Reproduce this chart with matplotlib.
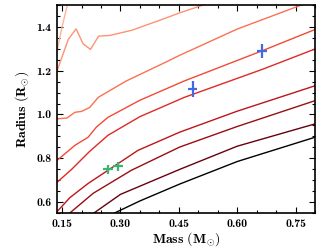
import numpy as np
import matplotlib
matplotlib.use('Agg')
import matplotlib.pyplot as plt
from matplotlib.ticker import MultipleLocator, FormatStrFormatter

plt.rcParams['font.family'] = 'serif'
plt.rcParams['font.serif'] = ['cmb10', 'DejaVu Serif']
plt.rcParams['mathtext.fontset'] = 'cm'
plt.rcParams['axes.unicode_minus'] = False

# model curves, mass (Msun) vs radius (Rsun), light to dark
m1 = [0.137, 0.150, 0.163, 0.170]
r1 = [1.290, 1.400, 1.495, 1.530]

m2 = [0.137, 0.166, 0.186, 0.204, 0.223, 0.244, 0.273, 0.330, 0.413, 0.452, 0.513, 0.530]
r2 = [1.198, 1.343, 1.391, 1.323, 1.297, 1.358, 1.361, 1.385, 1.438, 1.464, 1.500, 1.510]

m3 = [0.137, 0.163, 0.183, 0.200, 0.221, 0.243, 0.260, 0.315, 0.413, 0.452, 0.600, 0.756, 0.780]
r3 = [0.980, 0.984, 1.010, 1.014, 1.032, 1.078, 1.096, 1.153, 1.236, 1.270, 1.390, 1.494, 1.510]

m4 = [0.137, 0.183, 0.217, 0.238, 0.268, 0.350, 0.464, 0.663, 0.800]
r4 = [0.790, 0.859, 0.896, 0.942, 0.987, 1.065, 1.153, 1.290, 1.388]

m5 = [0.137, 0.175, 0.220, 0.268, 0.350, 0.464, 0.663, 0.800]
r5 = [0.690, 0.750, 0.830, 0.905, 0.990, 1.078, 1.205, 1.299]

m6 = [0.137, 0.170, 0.217, 0.268, 0.345, 0.452, 0.600, 0.800]
r6 = [0.556, 0.620, 0.685, 0.745, 0.836, 0.919, 1.015, 1.131]

m7 = [0.160, 0.170, 0.230, 0.328, 0.452, 0.600, 0.800]
r7 = [0.530, 0.550, 0.640, 0.745, 0.851, 0.945, 1.063]

m8 = [0.220, 0.232, 0.300, 0.452, 0.600, 0.800]
r8 = [0.530, 0.550, 0.635, 0.749, 0.855, 0.957]

m9 = [0.275, 0.285, 0.350, 0.452, 0.600, 0.800]
r9 = [0.535, 0.550, 0.605, 0.682, 0.785, 0.896]

curves = [(m1, r1), (m2, r2), (m3, r3), (m4, r4), (m5, r5),
          (m6, r6), (m7, r7), (m8, r8), (m9, r9)]

# observed stars
blue_m = [0.486, 0.664]
blue_r = [1.116, 1.290]
blue_merr = [0.012, 0.013]
blue_rerr = [0.038, 0.032]

green_m = [0.268, 0.294]
green_r = [0.749, 0.764]
green_merr = [0.012, 0.012]
green_rerr = [0.020, 0.020]

colors = list(plt.cm.Reds(np.linspace(0.27, 1.0, 8))) + ['black']

fig = plt.figure(figsize=(3.32, 2.49), dpi=100)
ax = fig.add_axes([57/332, 36/249, 258/332, 208/249])

for (m, r), c in zip(curves, colors):
    ax.plot(m, r, color=c, lw=1.0)

ax.errorbar(blue_m, blue_r, xerr=blue_merr, yerr=blue_rerr, fmt='none',
            ecolor='royalblue', elinewidth=1.6, capsize=0, zorder=5)
ax.errorbar(green_m, green_r, xerr=green_merr, yerr=green_rerr, fmt='none',
            ecolor='mediumseagreen', elinewidth=1.6, capsize=0, zorder=5)

ax.set_xlim(0.137, 0.8)
ax.set_ylim(0.55, 1.5)
ax.xaxis.set_major_locator(MultipleLocator(0.15))
ax.xaxis.set_minor_locator(MultipleLocator(0.05))
ax.yaxis.set_major_locator(MultipleLocator(0.2))
ax.yaxis.set_minor_locator(MultipleLocator(0.05))
ax.xaxis.set_major_formatter(FormatStrFormatter('%.2f'))
ax.yaxis.set_major_formatter(FormatStrFormatter('%.1f'))
ax.tick_params(which='both', direction='in', top=True, right=True, labelsize=8.5, pad=4)
ax.tick_params(which='major', length=4, width=0.8)
ax.tick_params(which='minor', length=2, width=0.8)
for s in ax.spines.values():
    s.set_linewidth(1.2)

ax.set_xlabel(r'$\mathbf{Mass\ (M_{\odot})}$', fontsize=10, labelpad=1)
ax.set_ylabel(r'$\mathbf{Radius\ (R_{\odot})}$', fontsize=10, labelpad=4)

fig.savefig('out.png', dpi=100)
